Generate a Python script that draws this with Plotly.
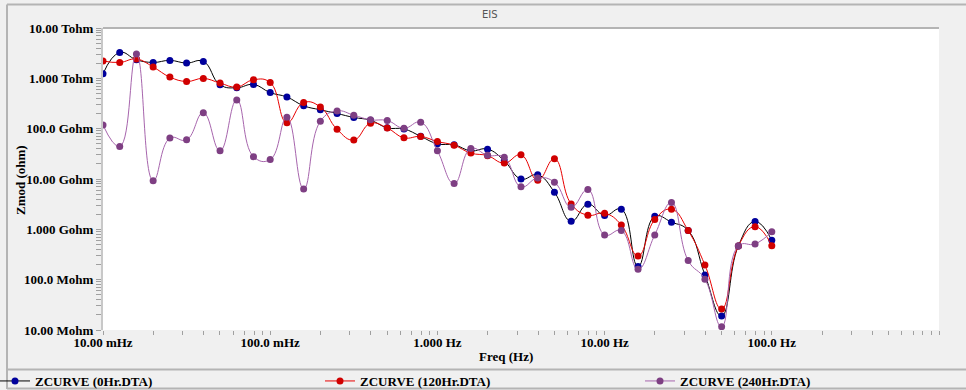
import numpy as np
import plotly.graph_objects as go

# Frequencies: 10 points per decade from 10 mHz to 100 Hz
freq_hz = [0.01, 0.01259, 0.01585, 0.01995, 0.02512, 0.03162, 0.03981, 0.05012, 0.0631, 0.07943,
           0.1, 0.1259, 0.1585, 0.1995, 0.2512, 0.3162, 0.3981, 0.5012, 0.631, 0.7943,
           1.0, 1.259, 1.585, 1.995, 2.512, 3.162, 3.981, 5.012, 6.31, 7.943,
           10.0, 12.59, 15.85, 19.95, 25.12, 31.62, 39.81, 50.12, 63.1, 79.43, 100.0]

zmod_0hr = [1.23e12, 3.27e12, 2.34e12, 2.07e12, 2.27e12, 2.01e12, 2.17e12, 7.45e11, 6.5e11, 7.55e11,
            5.21e11, 4.25e11, 2.85e11, 2.37e11, 2.0e11, 1.67e11, 1.47e11, 1.04e11, 9.85e10, 7.05e10,
            5.0e10, 4.77e10, 3.63e10, 3.92e10, 2.3e10, 1.0e10, 1.21e10, 5.47e9, 1.44e9, 3.16e9,
            1.89e9, 2.51e9, 1.83e8, 1.81e9, 1.39e9, 9.5e8, 1.24e8, 1.9e7, 4.68e8, 1.43e9, 6.08e8]

zmod_120hr = [2.21e12, 2.07e12, 2.42e12, 1.68e12, 1.06e12, 8.67e11, 9.95e11, 8.05e11, 6.71e11, 9.37e11,
              8.24e11, 1.31e11, 3.31e11, 2.7e11, 9.7e10, 5.94e10, 1.28e11, 1.03e11, 6.58e10, 6.98e10,
              5.56e10, 4.67e10, 3.27e10, 2.91e10, 2.07e10, 3.02e10, 9.4e9, 2.52e10, 3.2e9, 1.91e9,
              2.09e9, 1.22e9, 2.96e8, 1.56e9, 2.51e9, 9.44e8, 1.96e8, 2.61e7, 4.68e8, 1.13e9, 4.74e8]

zmod_240hr = [1.18e11, 4.42e10, 3.04e12, 9.2e9, 6.49e10, 6.0e10, 2.07e11, 3.63e10, 3.72e11, 2.78e10,
              2.43e10, 1.68e11, 6.31e9, 1.4e11, 2.25e11, 1.85e11, 1.5e11, 1.45e11, 1.02e11, 1.34e11,
              3.63e10, 8.11e9, 4.03e10, 2.95e10, 2.69e10, 6.98e9, 1.05e10, 8.65e9, 2.75e9, 6.17e9,
              7.74e8, 9.44e8, 1.61e8, 7.74e8, 3.4e9, 2.39e8, 1.02e8, 1.16e7, 4.68e8, 5.13e8, 9.0e8]

series_names = ["ZCURVE (0Hr.DTA)", "ZCURVE (120Hr.DTA)", "ZCURVE (240Hr.DTA)"]

x_major_vals = [0.01, 0.1, 1, 10, 100, 1000]
x_major_text = ["10.00 mHz", "100.0 mHz", "1.000 Hz", "10.00 Hz", "100.0 Hz", "1.000 kHz"]
y_major_vals = [1e7, 1e8, 1e9, 1e10, 1e11, 1e12, 1e13]
y_major_text = ["10.00 Mohm", "100.0 Mohm", "1.000 Gohm", "10.00 Gohm", "100.0 Gohm", "1.000 Tohm", "10.00 Tohm"]


def with_minors(majors, labels):
    vals, txt = [], []
    for i, m in enumerate(majors):
        vals.append(m)
        txt.append(labels[i])
        if i < len(majors) - 1:
            for k in range(2, 10):
                vals.append(m * k)
                txt.append("")
    return vals, txt


xt_vals, xt_text = with_minors(x_major_vals, x_major_text)
yt_vals, yt_text = with_minors(y_major_vals, y_major_text)

W, H = 966, 390
L, R, T, B = 103, 939, 28, 330
serif = "Liberation Serif, Times New Roman, serif"


def px_x(p):
    return (p - L) / (R - L)


def px_y(p):
    return (B - p) / (B - T)


fig = go.Figure()
styles = [
    dict(line="#000000", marker="#00009c", legend="legend", lx=-5),
    dict(line="#e80000", marker="#d00000", legend="legend2", lx=320),
    dict(line="#a765ad", marker="#7e3f83", legend="legend3", lx=640),
]
for name, z, st in zip(series_names, [zmod_0hr, zmod_120hr, zmod_240hr], styles):
    fig.add_trace(go.Scatter(
        x=freq_hz, y=z, name=name, mode="lines+markers", legend=st["legend"],
        line=dict(color=st["line"], width=1, shape="spline", smoothing=1.3),
        marker=dict(color=st["marker"], size=7, symbol="circle"),
    ))

legend_common = dict(
    orientation="h", xref="paper", yref="paper", xanchor="left", yanchor="top",
    y=px_y(366),
    font=dict(family=serif, size=13, color="#000000", weight="bold"),
    bgcolor="rgba(0,0,0,0)", itemclick=False,
)

shapes = [
    dict(type="line", xref="paper", yref="paper", x0=px_x(7), x1=px_x(970), y0=px_y(4.5), y1=px_y(4.5),
         line=dict(color="#b4b4b4", width=2)),
    dict(type="line", xref="paper", yref="paper", x0=px_x(7), x1=px_x(7), y0=px_y(4.5), y1=px_y(389),
         line=dict(color="#b4b4b4", width=2)),
    dict(type="line", xref="paper", yref="paper", x0=0, x1=1, y0=1, y1=1,
         line=dict(color="#b4b4b4", width=2)),
    dict(type="line", xref="paper", yref="paper", x0=px_x(7), x1=px_x(970), y0=px_y(369.5), y1=px_y(369.5),
         line=dict(color="#b4b4b4", width=2)),
    dict(type="line", xref="paper", yref="paper", x0=px_x(7), x1=px_x(970), y0=px_y(388.5), y1=px_y(388.5),
         line=dict(color="#b4b4b4", width=2)),
]

fig.update_layout(
    width=W, height=H,
    margin=dict(l=L, r=W - R, t=T, b=H - B, pad=0, autoexpand=False),
    paper_bgcolor="#f0f0f0",
    plot_bgcolor="#ffffff",
    showlegend=True,
    legend=dict(legend_common, x=px_x(styles[0]["lx"])),
    legend2=dict(legend_common, x=px_x(styles[1]["lx"])),
    legend3=dict(legend_common, x=px_x(styles[2]["lx"])),
    shapes=shapes,
    annotations=[
        dict(text="EIS", xref="paper", yref="paper", x=px_x(490), y=px_y(15), showarrow=False,
             xanchor="center", yanchor="middle",
             font=dict(family="DejaVu Sans, sans-serif", size=10, color="#555555")),
        dict(text="Freq (Hz)", xref="paper", yref="paper", x=px_x(506), y=px_y(357), showarrow=False,
             xanchor="center", yanchor="middle",
             font=dict(family=serif, size=13, color="#000000", weight="bold")),
        dict(text="Zmod (ohm)", xref="paper", yref="paper", x=px_x(20), y=px_y(180), showarrow=False,
             textangle=-90, xanchor="center", yanchor="middle",
             font=dict(family=serif, size=13, color="#000000", weight="bold")),
    ],
    xaxis=dict(
        type="log", range=[-2, 3], tickvals=xt_vals, ticktext=xt_text,
        ticks="outside", ticklen=4, tickcolor="#a0a0a0", tickwidth=1,
        ticklabelstandoff=-4,
        showgrid=False, zeroline=False, showline=False,
        tickfont=dict(family=serif, size=13, color="#000000", weight="bold"),
        fixedrange=True,
    ),
    yaxis=dict(
        type="log", range=[7, 13], tickvals=yt_vals, ticktext=yt_text,
        ticks="outside", ticklen=5, tickcolor="#a0a0a0", tickwidth=1,
        showgrid=False, zeroline=False, showline=True, linecolor="#c8c8c8", linewidth=2,
        tickfont=dict(family=serif, size=13, color="#000000", weight="bold"),
        fixedrange=True,
    ),
)

fig.write_html("out.html", config={"displayModeBar": False},
               post_script="document.body.style.margin='0';document.body.style.overflow='hidden';")
